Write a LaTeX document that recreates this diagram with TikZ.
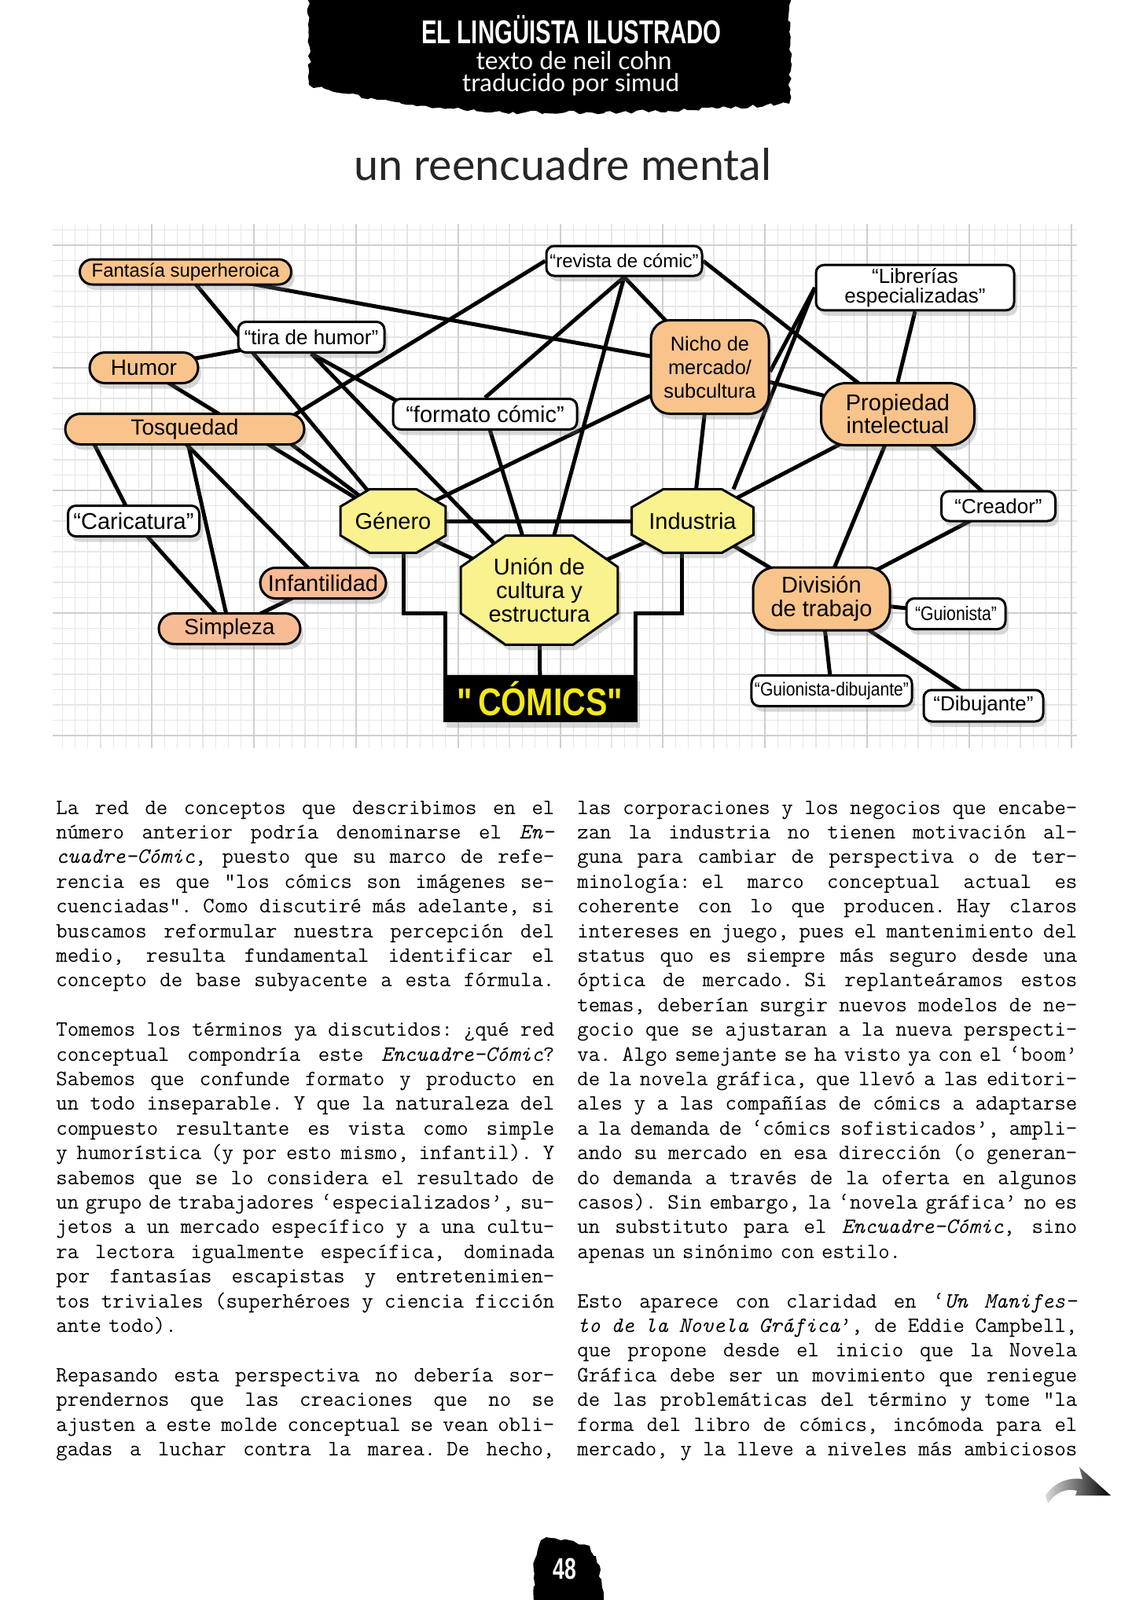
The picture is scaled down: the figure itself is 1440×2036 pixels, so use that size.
\documentclass[tikz,border=0pt]{standalone}
\usepackage{fontspec}
\usepackage{graphicx}
\setmainfont{Liberation Sans}
\newfontfamily\plainsans{Liberation Sans}
\newfontfamily\headfont{Lato}
\usetikzlibrary{shapes.misc, shadows, decorations.pathmorphing}
\definecolor{peach}{HTML}{F9C48C}
\definecolor{peachpink}{HTML}{F7BC96}
\definecolor{lemon}{HTML}{FAF18F}
\definecolor{comicyellow}{HTML}{F2E81A}
\definecolor{gridminor}{HTML}{E6E6E6}
\definecolor{gridmajor}{HTML}{CFCFCF}
\pgfdeclarelayer{back}
\pgfdeclarelayer{links}
\pgfdeclarelayer{plates}
\pgfsetlayers{back,links,plates,main}
\newcommand{\fsz}[2]{\fontsize{#1}{#2}\selectfont}
\newcommand{\jl}[1]{\makebox[\linewidth][s]{#1}\\}

\begin{document}
\begin{tikzpicture}[
  x=0.5pt, y=-0.5pt,
  link/.style={line width=2.5pt},
  softshadow/.style={drop shadow={shadow xshift=2pt, shadow yshift=-3.5pt, opacity=0.3}},
  term/.style={draw, line width=1.5pt, fill=white, rounded corners=5pt, softshadow, align=center, inner sep=2pt},
  concept/.style={draw, line width=1.5pt, fill=peach, softshadow, align=center, inner sep=2pt},
  pill/.style={concept, rounded rectangle},
  octo/.style={draw, line width=1.5pt, fill=lemon, softshadow},
  textcol/.style={text width=#1, align=left, inner sep=0pt, font=\fsz{14}{15.7}\ttfamily}
]
\useasboundingbox (0,0) rectangle (1440,2036);

\begin{pgfonlayer}{back}
\fill[white] (0,0) rectangle (1440,2036);
\begin{scope}[shift={(63,0)}]
\draw[gridminor, line width=0.6pt, xstep=8.125pt, ystep=9.75pt] (4,285) grid (1307,952);
\draw[gridmajor, line width=0.8pt, xstep=65pt, ystep=78pt] (4,285) grid (1307,952);
\end{scope}
\end{pgfonlayer}

% header
\fill[black, decorate, decoration={random steps, segment length=3pt, amplitude=1.2pt}]
  (392,-6) -- (1006,-6) -- (1004,40) -- (1006,90) -- (1004,132) -- (911,138) -- (790,143)
  -- (625,143) -- (560,137) -- (480,127) -- (430,118) -- (393,108) -- (394,60) -- cycle;
\node[text=white, font=\bfseries\fsz{21}{21}] (series) at (727,38) {\scalebox{0.7}[1]{EL LINGÜISTA ILUSTRADO}};
\node[text=white, anchor=base] (author) at (730,88) {\resizebox{124.5pt}{!}{\headfont texto de neil cohn}};
\node[text=white, anchor=base] (translator) at (726,116) {\resizebox{138pt}{!}{\headfont traducido por simud}};
\node[text=black!85, anchor=base] (title) at (716,229) {\resizebox{265.5pt}{!}{\headfont un reencuadre mental}};

% concept map
\node[pill, minimum width=138.5pt, minimum height=16pt, font=\fsz{12}{13}] (fant) at (236,346) {Fantasía superheroica};
\node[pill, minimum width=73pt, minimum height=19.5pt, font=\fsz{14}{15}] (humor) at (183,468) {Humor};
\node[pill, minimum width=156pt, minimum height=19.5pt, font=\fsz{14}{15}] (tosq) at (235,546) {Tosquedad};
\node[pill, fill=peachpink, minimum width=84pt, minimum height=19.5pt, font=\fsz{14.5}{15}] (infant) at (411,742) {Infantilidad};
\node[pill, fill=peachpink, minimum width=94pt, minimum height=19.5pt, font=\fsz{14}{15}] (simp) at (292,800) {Simpleza};
\node[term, minimum width=83.5pt, minimum height=19.5pt, font=\fsz{14.5}{15}] (caric) at (170,663) {“Caricatura”};
\node[term, minimum width=93pt, minimum height=19.5pt, font=\fsz{13}{14}] (tira) at (396,429) {“tira de humor”};
\node[term, minimum width=117pt, minimum height=19.5pt, font=\fsz{14.5}{15}] (fmt) at (617,527) {“formato cómic”};
\node[term, minimum width=99pt, minimum height=19pt, font=\fsz{12}{13}] (rev) at (794,332) {“revista de cómic”};
\node[term, minimum width=126pt, minimum height=27.5pt, font=\fsz{13}{12.5}] (lib) at (1164,366) {“Librerías\\especializadas”};
\node[concept, rounded corners=12pt, minimum width=75pt, minimum height=59.5pt, font=\fsz{12.7}{15}] (nicho) at (903,467) {Nicho de\\mercado/\\subcultura};
\node[concept, rounded corners=16pt, minimum width=97.5pt, minimum height=39.5pt, font=\fsz{14.5}{14.5}] (prop) at (1142,527) {Propiedad\\intelectual};
\node[term, minimum width=72.5pt, minimum height=19pt, font=\fsz{13}{14}] (creador) at (1270,644) {“Creador”};
\node[concept, rounded corners=14pt, minimum width=87pt, minimum height=40pt, font=\fsz{14.5}{15}] (div) at (1045,762) {División\\de trabajo};
\node[term, minimum width=63pt, minimum height=19.5pt, font=\fsz{12.5}{13}] (guion) at (1216,781) {\scalebox{0.85}[1]{“Guionista”}};
\node[term, minimum width=100pt, minimum height=19.5pt, font=\fsz{12}{13}] (gdib) at (1058,879) {\scalebox{0.88}[1]{“Guionista-dibujante”}};
\node[term, minimum width=76pt, minimum height=20pt, font=\fsz{13}{14}] (dib) at (1251,898) {“Dibujante”};
\node[minimum width=66.5pt, minimum height=40pt, inner sep=0pt, font=\fsz{14.5}{15}] (gen) at (500,663) {Género};
\node[minimum width=77pt, minimum height=40pt, inner sep=0pt, font=\fsz{14.5}{15}] (ind) at (881,663) {Industria};
\node[minimum width=99.5pt, minimum height=69pt, inner sep=0pt, align=center, font=\fsz{14.5}{15}] (union) at (686,751) {Unión de\\cultura y\\estructura};
\node[draw, fill=black, softshadow, minimum width=123pt, minimum height=29.5pt, text=comicyellow,
  font=\plainsans\bfseries\fsz{24.5}{25}] (com) at (687,889) {\scalebox{0.84}[1]{"\,CÓMICS"}};

\begin{pgfonlayer}{plates}
\foreach \n/\cx/\cy in {gen/18.5pt/11pt, ind/20pt/11.5pt, union/28.5pt/20pt}
  \filldraw[octo] ([xshift=\cx]\n.north west) -- ([xshift=-\cx]\n.north east) -- ([yshift=-\cy]\n.north east)
    -- ([yshift=\cy]\n.south east) -- ([xshift=-\cx]\n.south east) -- ([xshift=\cx]\n.south west)
    -- ([yshift=\cy]\n.south west) -- ([yshift=-\cy]\n.north west) -- cycle;
\end{pgfonlayer}

\begin{pgfonlayer}{links}
\draw[link] (fant.center) -- (gen.center);
\draw[link] (fant.center) -- (nicho.center);
\draw[link] (humor.center) -- (tira.center);
\draw[link] (humor.center) -- (gen.center);
\draw[link] ([xshift=55pt]tosq.center) -- (gen.center);
\draw[link] (rev.west) -- ([xshift=55pt]tosq.center);
\draw[link] (tira.south) -- ([xshift=-41pt]fmt.center);
\draw[link] (tira.south) -- (union.center);
\draw[link] (rev.south) -- (fmt.north);
\draw[link] (rev.south) -- (union.center);
\draw[link] (rev.south) -- (nicho.center);
\draw[link] (rev.east) -- (prop.center);
\draw[link] (nicho.center) -- (prop.center);
\draw[link] (nicho.center) -- (ind.center);
\draw[link] (nicho.center) -- (gen.center);
\draw[link] (lib.west) -- ([yshift=-3pt]nicho.east);
\draw[link] (lib.west) -- ([xshift=26pt]ind.north);
\draw[link] (lib.south) -- (prop.north);
\draw[link] (prop.center) -- (ind.center);
\draw[link] (prop.center) -- (div.center);
\draw[link] (prop.center) -- (creador.center);
\draw[link] (creador.center) -- (div.center);
\draw[link] (div.center) -- (guion.center);
\draw[link] (div.center) -- (gdib.center);
\draw[link] (div.center) -- (dib.center);
\draw[link] (ind.center) -- (div.center);
\draw[link] (ind.center) -- (union.center);
\draw[link] (gen.center) -- (ind.center);
\draw[link] (gen.center) -- (union.center);
\draw[link] (fmt.center) -- (union.center);
\draw[link] (union.center) -- (com.center);
\draw[link] ([xshift=6.5pt]gen.south) -- ++(0,77) -| ([xshift=1.5pt]com.north west);
\draw[link] ([xshift=-7pt]ind.south) -- ++(0,77) -| ([xshift=-1pt]com.north east);
\draw[link] ([xshift=-62.5pt]tosq.center) -- (caric.center);
\draw[link] (tosq.center) -- (simp.center);
\draw[link] ([xshift=-8.5pt]tosq.center) -- (infant.center);
\draw[link] (caric.center) -- (simp.center);
\draw[link] (infant.center) -- (simp.center);
\end{pgfonlayer}

% article
\node[textcol=317pt, anchor=base west] (left) at (71,1036) {\spaceskip=4.6pt plus 60pt minus 1.7pt
\jl{La red de conceptos que describimos en el}
\jl{número anterior podría denominarse el \textit{En-}}
\jl{\textit{cuadre-Cómic}, puesto que su marco de refe-}
\jl{rencia es que "los cómics son imágenes se-}
\jl{cuenciadas". Como discutiré más adelante, si}
\jl{buscamos reformular nuestra percepción del}
\jl{medio, resulta fundamental identificar el}
\jl{concepto de base subyacente a esta fórmula.}
\mbox{}\\
\jl{Tomemos los términos ya discutidos: ¿qué red}
\jl{conceptual compondría este \textit{Encuadre-Cómic}?}
\jl{Sabemos que confunde formato y producto en}
\jl{un todo inseparable. Y que la naturaleza del}
\jl{compuesto resultante es vista como simple}
\jl{y humorística (y por esto mismo, infantil). Y}
\jl{sabemos que se lo considera el resultado de}
\jl{un grupo de trabajadores ‘especializados’, su-}
\jl{jetos a un mercado específico y a una cultu-}
\jl{ra lectora igualmente específica, dominada}
\jl{por fantasías escapistas y entretenimien-}
\jl{tos triviales (superhéroes y ciencia ficción}
ante todo).\\
\mbox{}\\
\jl{Repasando esta perspectiva no debería sor-}
\jl{prendernos que las creaciones que no se}
\jl{ajusten a este molde conceptual se vean obli-}
\makebox[\linewidth][s]{gadas a luchar contra la marea. De hecho,}};

\node[textcol=318pt, anchor=base west] (right) at (734,1036) {\spaceskip=4.6pt plus 60pt minus 1.7pt
\jl{las corporaciones y los negocios que encabe-}
\jl{zan la industria no tienen motivación al-}
\jl{guna para cambiar de perspectiva o de ter-}
\jl{minología: el marco conceptual actual es}
\jl{coherente con lo que producen. Hay claros}
\jl{intereses en juego, pues el mantenimiento del}
\jl{status quo es siempre más seguro desde una}
\jl{óptica de mercado. Si replanteáramos estos}
\jl{temas, deberían surgir nuevos modelos de ne-}
\jl{gocio que se ajustaran a la nueva perspecti-}
\jl{va. Algo semejante se ha visto ya con el ‘boom’}
\jl{de la novela gráfica, que llevó a las editori-}
\jl{ales y a las compañías de cómics a adaptarse}
\jl{a la demanda de ‘cómics sofisticados’, ampli-}
\jl{ando su mercado en esa dirección (o generan-}
\jl{do demanda a través de la oferta en algunos}
\jl{casos). Sin embargo, la ‘novela gráfica’ no es}
\jl{un substituto para el \textit{Encuadre-Cómic}, sino}
apenas un sinónimo con estilo.\\
\mbox{}\\
\jl{Esto aparece con claridad en ‘\textit{Un Manifes-}}
\jl{\textit{to de la Novela Gráfica}’, de Eddie Campbell,}
\jl{que propone desde el inicio que la Novela}
\jl{Gráfica debe ser un movimiento que reniegue}
\jl{de las problemáticas del término y tome "la}
\jl{forma del libro de cómics, incómoda para el}
\makebox[\linewidth][s]{mercado, y la lleve a niveles más ambiciosos}};

% page foot
\shade[left color=black!15, right color=black]
  (1330,1903) .. controls (1342,1885) and (1360,1880) .. (1377,1882) -- (1373,1867) -- (1413,1903)
  -- (1368,1903) -- (1370,1897) .. controls (1355,1893) and (1342,1900) .. (1333,1913) -- cycle;
\fill[black, decorate, decoration={random steps, segment length=3pt, amplitude=1.2pt}]
  (677,2040) -- (680,1985) -- (688,1960) -- (700,1957) -- (725,1960) -- (750,1967) -- (758,1980)
  -- (765,2010) -- (768,2040) -- cycle;
\node[text=white, font=\bfseries\fsz{19}{19}] (pageno) at (718,1996) {\scalebox{0.7}[1]{48}};
\end{tikzpicture}
\end{document}
